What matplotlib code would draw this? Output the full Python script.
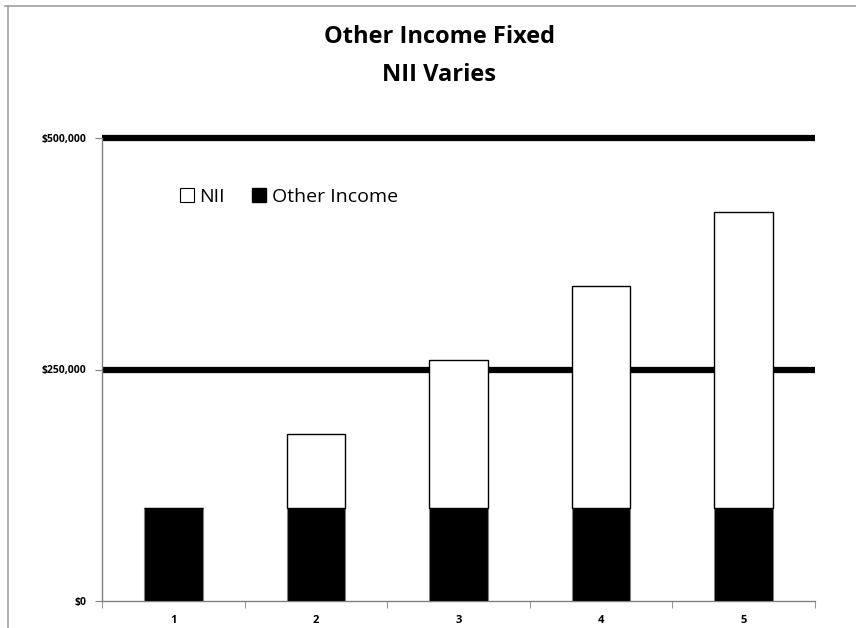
import matplotlib.pyplot as plt
from matplotlib.lines import Line2D
from matplotlib.patches import Patch
from matplotlib.ticker import FuncFormatter, FixedLocator

plt.rcParams['font.family'] = ['Open Sans', 'DejaVu Sans']

# Data
categories = ['1', '2', '3', '4', '5']
other_income = [100000, 100000, 100000, 100000, 100000]
nii = [0, 80000, 160000, 240000, 320000]
y_ticks = [0, 250000, 500000]

fig = plt.figure(figsize=(8.56, 6.28), dpi=100)
ax = fig.add_axes([102 / 856, 1 - 601 / 628, (815 - 102) / 856, (601 - 138) / 628])

x = list(range(len(categories)))
ax.bar(x, other_income, width=0.41, color='black', edgecolor='#808080', linewidth=0.8, zorder=3)
ax.bar(x, nii, bottom=other_income, width=0.41, color='white', edgecolor='black',
       linewidth=1.0, zorder=3)

# thick gridlines
for yv in y_ticks[1:]:
    ax.axhline(yv, color='black', linewidth=4.5, zorder=2, solid_capstyle='butt', clip_on=False)

ax.set_xlim(-0.5, len(categories) - 0.5)
ax.set_ylim(0, 500000)
ax.set_xticks(x)
ax.set_xticklabels(categories, fontsize=8, fontweight='bold')
ax.xaxis.set_minor_locator(FixedLocator([i + 0.5 for i in range(-1, len(categories))]))
ax.tick_params(axis='x', which='major', length=0, pad=10)
ax.tick_params(axis='x', which='minor', length=5, color='#808080', direction='out')
ax.set_yticks(y_ticks)
ax.yaxis.set_major_formatter(FuncFormatter(lambda v, p: '${:,.0f}'.format(v)))
ax.tick_params(axis='y', length=5, color='#808080', labelsize=7.5, pad=6)
for lab in ax.get_yticklabels():
    lab.set_fontweight('bold')

for side in ['top', 'right']:
    ax.spines[side].set_visible(False)
for side in ['left', 'bottom']:
    ax.spines[side].set_color('#808080')
    ax.spines[side].set_linewidth(1.0)

fig.text(0.513, 0.941, 'Other Income Fixed', ha='center', va='center', fontsize=17, fontweight='bold')
fig.text(0.513, 0.880, 'NII Varies', ha='center', va='center', fontsize=17, fontweight='bold')

handles = [Patch(facecolor='white', edgecolor='black', linewidth=0.8),
           Patch(facecolor='black', edgecolor='black')]
ax.legend(handles, ['NII', 'Other Income'], loc='upper left', bbox_to_anchor=(0.085, 0.93),
          ncol=2, frameon=False, fontsize=14, handlelength=0.7, handleheight=0.7,
          handletextpad=0.3, columnspacing=1.4)

# outer chart border
fig.add_artist(Line2D([5 / 856, 1], [1 - 6 / 628, 1 - 6 / 628], color='#a0a0a0', linewidth=1.2))
fig.add_artist(Line2D([8 / 856, 8 / 856], [0, 1 - 6 / 628], color='#a0a0a0', linewidth=1.2))

fig.savefig('out.png', dpi=100)
